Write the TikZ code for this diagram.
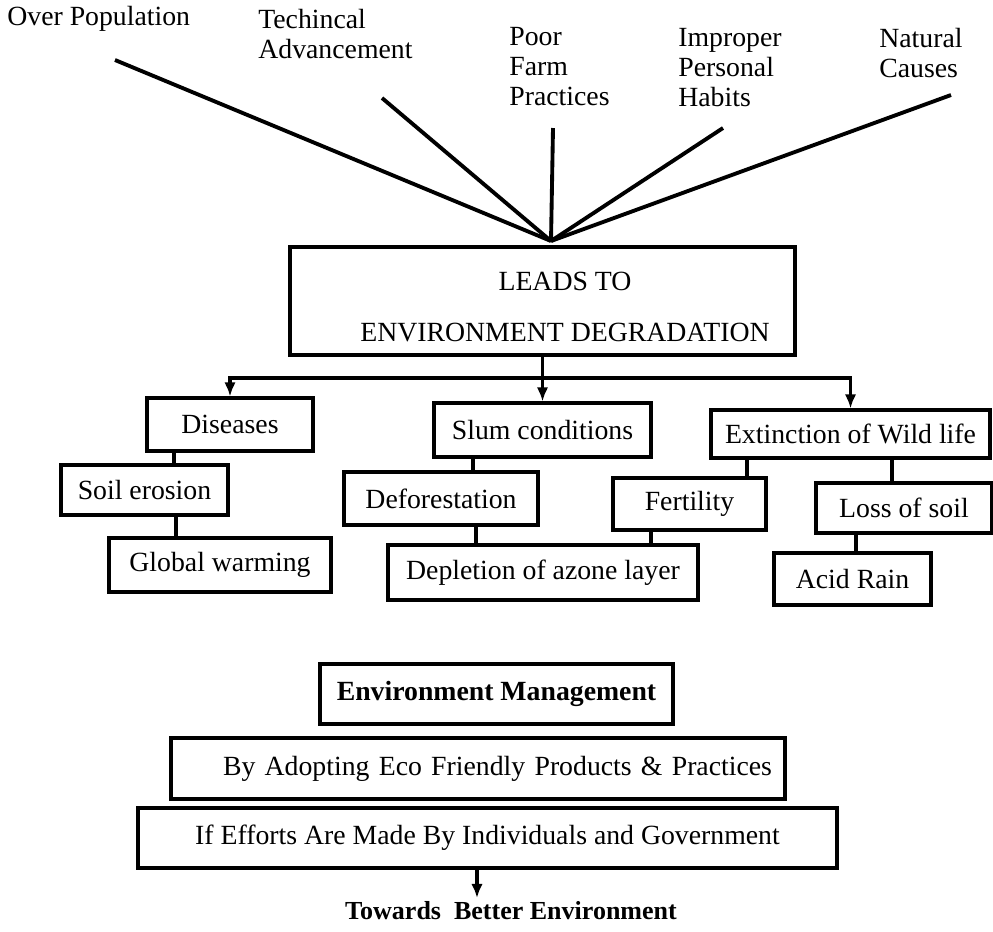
\documentclass[tikz,border=0pt]{standalone}
\usepackage{fontspec}
\setmainfont{Liberation Serif}
\usetikzlibrary{arrows.meta}
\newdimen\px
\px=0.02cm

\begin{document}
\begin{tikzpicture}[x=0.02cm,y=-0.02cm,
		txt/.style={font=\fontsize{15.8pt}{17pt}\selectfont, inner sep=0pt},
		cause/.style={txt, align=left, anchor=north west},
		box/.style={draw, line width=1.8pt, font=\fontsize{15.8pt}{17pt}\selectfont, inner sep=0pt},
		spoke/.style={line width=2.2pt},
		link/.style={line width=1.8pt},
		arr/.style={link, -{Latex[length=8pt,width=6.5pt]}}]
	\useasboundingbox (0,0) rectangle (993,931);
	\node[cause] (overpop) at (7,6) {Over Population};
	\node[cause] (tech) at (258,9) {Techincal\\Advancement};
	\node[cause] (farm) at (509,27) {Poor\\Farm\\Practices};
	\node[cause] (habit) at (678,28) {Improper\\Personal\\Habits};
	\node[cause] (nature) at (879,28) {Natural\\Causes};
	\coordinate (apex) at (551,241);
	\coordinate (s1) at (115,60);
	\coordinate (s2) at (382,98);
	\coordinate (s3) at (553,128);
	\coordinate (s4) at (723,128);
	\coordinate (s5) at (951,95);
	\foreach \s in {s1,s2,s3,s4,s5}
		\draw[spoke] (\s) -- (apex);

	\node[box, minimum width=505\px, minimum height=108\px] (lead) at (542.5,301) {};
	\node[txt, align=center] (leadtxt) at (565,307) {LEADS TO\\[12pt]ENVIRONMENT DEGRADATION};

	\node[box, minimum width=166\px, minimum height=53\px] (dise) at (230,424.5) {Diseases};
	\node[box, minimum width=217\px, minimum height=54\px] (slum) at (542.5,430) {Slum conditions};
	\node[box, minimum width=279\px, minimum height=48\px] (extinct) at (850.5,434) {Extinction of Wild life};
	\node[box, minimum width=167\px, minimum height=50\px] (soil) at (144.5,490) {Soil erosion};
	\node[box, minimum width=222\px, minimum height=54\px] (warm) at (220,565) {Global warming};
	\node[box, minimum width=194\px, minimum height=53\px] (defor) at (441,498.5) {Deforestation};
	\node[box, minimum width=310\px, minimum height=55\px] (ozone) at (543,572.5) {Depletion of azone layer};
	\node[box, minimum width=153\px, minimum height=52\px] (fert) at (689.5,504) {Fertility};
	\node[box, minimum width=176\px, minimum height=50\px] (soilloss) at (904,508) {Loss of soil};
	\node[box, minimum width=157\px, minimum height=52\px] (acid) at (852.5,579) {Acid Rain};

	\coordinate (bus) at (542,378);
	\draw[arr] (lead.south) -- (slum.north);
	\draw[arr] (bus) -| (dise.north);
	\draw[arr] (bus) -| (extinct.north);
	\draw[link] (dise.south -| 174,0) -- (soil.north -| 174,0);
	\draw[link] (soil.south -| 176,0) -- (warm.north -| 176,0);
	\draw[link] (slum.south -| 473,0) -- (defor.north -| 473,0);
	\draw[link] (defor.south -| 476,0) -- (ozone.north -| 476,0);
	\draw[link] (extinct.south -| 747,0) -- (fert.north -| 747,0);
	\draw[link] (fert.south -| 651,0) -- (ozone.north -| 651,0);
	\draw[link] (extinct.south -| 892,0) -- (soilloss.north -| 892,0);
	\draw[link] (soilloss.south -| 856,0) -- (acid.north -| 856,0);

	\node[box, font=\fontsize{15.8pt}{17pt}\selectfont\bfseries, minimum width=353\px, minimum height=60\px] (manage) at (496.5,694) {Environment Management};
	\node[box, minimum height=61\px, text width=588\px, inner xsep=13\px, align=right] (adopt) at (478,768.5) {By Adopting Eco Friendly Products \& Practices};
	\node[box, minimum width=699\px, minimum height=60\px] (effort) at (487.5,838) {If Efforts Are Made By Individuals and Government};
	\node[txt, font=\fontsize{14.8pt}{17pt}\selectfont\bfseries, inner sep=2pt] (better) at (511,911) {Towards\ \ Better Environment};
	\draw[arr] (effort.south -| 477,0) -- (better.north -| 477,0);
\end{tikzpicture}
\end{document}
